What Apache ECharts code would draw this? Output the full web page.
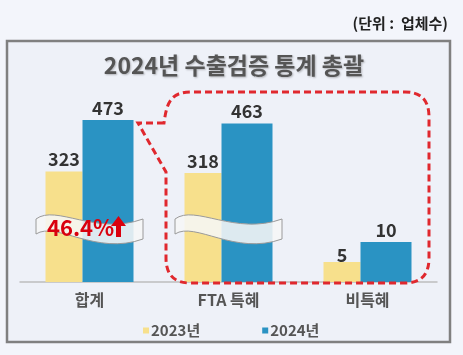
<!DOCTYPE html>
<html>
<head>
<meta charset="utf-8">
<script src="https://cdn.jsdelivr.net/npm/echarts@6/dist/echarts.min.js"></script>
<style>
  html, body { margin: 0; padding: 0; background: #f3f5fb; }
  #chart { width: 463px; height: 355px; }
</style>
</head>
<body>
<div id="chart"></div>
<script>
// ---- data ----
const categories = ['합계', 'FTA 특혜', '비특혜'];
const seriesNames = ['2023년', '2024년'];
const values2023 = [323, 318, 5];
const values2024 = [473, 463, 10];
const titleText = '2024년 수출검증 통계 총괄';
const unitText = '(단위 :  업체수)';
const changeText = '46.4%';

// ---- styles ----
const FONT = '"Noto Sans CJK KR", "Noto Sans", sans-serif';
const colors = ['#f7e08c', '#2a93c3'];
const widths = [37, 51];

const chart = echarts.init(document.getElementById('chart'));

// grid 0: first two categories (large values), grid 1: last category (small values, own scale)
const splits = [[0, 2], [2, 3]];
const yMax = [584, 50];

const xAxes = splits.map((s, i) => ({
  type: 'category',
  gridIndex: i,
  data: categories.slice(s[0], s[1]),
  axisTick: { show: false },
  axisLine: { lineStyle: { color: '#bdbdbd', width: 1.5 } },
  axisLabel: { color: '#555', fontSize: 16, fontWeight: 'bold', fontFamily: FONT, margin: 10 }
}));
const yAxes = splits.map((s, i) => ({
  type: 'value', gridIndex: i, min: 0, max: yMax[i], show: false
}));

const allValues = [values2023, values2024];
const series = [];
splits.forEach((s, gi) => {
  allValues.forEach((vals, si) => {
    const lbl = {
      show: true, position: 'top', distance: 3,
      color: '#333', fontSize: 18, fontWeight: 'bold', fontFamily: FONT
    };
    if (gi === 1 && si === 0) lbl.offset = [0, 5];
    series.push({
      name: seriesNames[si],
      type: 'bar',
      xAxisIndex: gi, yAxisIndex: gi,
      data: vals.slice(s[0], s[1]),
      barWidth: widths[si],
      barGap: '0%',
      itemStyle: { color: colors[si] },
      label: lbl,
      z: 2
    });
  });
});

// decorations (speech-bubble outline, broken-axis ribbons, change note)
const bubblePath = 'M 164 123 L 138 123 L 166 172 L 166 258 Q 166 283 190 283 L 405 283 Q 429 283 429 258 L 429 117 Q 429 92 405 92 L 192 92 C 172 92 167 100 164 123 Z';
const ribbon1 = 'M 36 219 C 56 204 96 236 143 219 L 143 239 C 96 256 56 221 36 234 Z';
const ribbon2 = 'M 175 219 C 195 204 235 236 282 219 L 282 239 C 235 256 195 221 175 234 Z';

series.push({
  type: 'custom',
  coordinateSystem: 'none',
  silent: true,
  z: 10,
  data: [[0]],
  renderItem: function () {
    return {
      type: 'group',
      children: [
        { type: 'path', shape: { pathData: ribbon1 }, style: { fill: 'rgba(246,246,246,0.88)', stroke: '#9a9a9a', lineWidth: 1 } },
        { type: 'path', shape: { pathData: ribbon2 }, style: { fill: 'rgba(246,246,246,0.88)', stroke: '#9a9a9a', lineWidth: 1 } },
        { type: 'path', shape: { pathData: bubblePath }, style: { fill: 'none', stroke: '#e0282e', lineWidth: 3, lineDash: [7, 4] } },
        {
          type: 'text',
          style: {
            text: changeText, x: 47, y: 228, align: 'left', verticalAlign: 'middle',
            fill: '#d9000d', font: 'bold 22px ' + FONT,
            shadowColor: 'rgba(0,0,0,0.3)', shadowBlur: 2, shadowOffsetX: 1, shadowOffsetY: 1
          }
        },
        {
          type: 'polygon',
          shape: { points: [[118.5, 216], [126, 226], [121, 226], [121, 237], [116, 237], [116, 226], [111, 226]] },
          style: { fill: '#d9000d' }
        }
      ]
    };
  }
});

const option = {
  backgroundColor: '#f3f5fb',
  animation: false,
  color: colors,
  title: {
    text: titleText,
    left: 229, textAlign: 'center', top: 49,
    textStyle: {
      color: '#555', fontSize: 23, fontWeight: 'bold', fontFamily: FONT,
      textShadowColor: 'rgba(0,0,0,0.25)', textShadowBlur: 2, textShadowOffsetX: 1, textShadowOffsetY: 1
    }
  },
  legend: {
    data: seriesNames,
    left: 138, top: 318,
    itemWidth: 6, itemHeight: 6, itemGap: 62,
    icon: 'rect',
    textStyle: { color: '#555', fontSize: 15, fontWeight: 'bold', fontFamily: FONT, padding: [0, 0, 0, -3] }
  },
  grid: [
    { left: 20, width: 278, top: 82, height: 200 },
    { left: 298, width: 139, top: 82, height: 200 }
  ],
  xAxis: xAxes,
  yAxis: yAxes,
  series: series,
  graphic: [
    {
      type: 'rect', z: -10, silent: true,
      shape: { x: 7, y: 41, width: 443, height: 301 },
      style: { fill: '#eef1f8', stroke: '#808080', lineWidth: 2.5 }
    },
    {
      type: 'text', z: 10, silent: true,
      style: {
        text: unitText, x: 448, y: 23, align: 'right', verticalAlign: 'middle',
        fill: '#222', font: '600 15px ' + FONT
      }
    }
  ]
};
chart.setOption(option);
</script>
</body>
</html>
